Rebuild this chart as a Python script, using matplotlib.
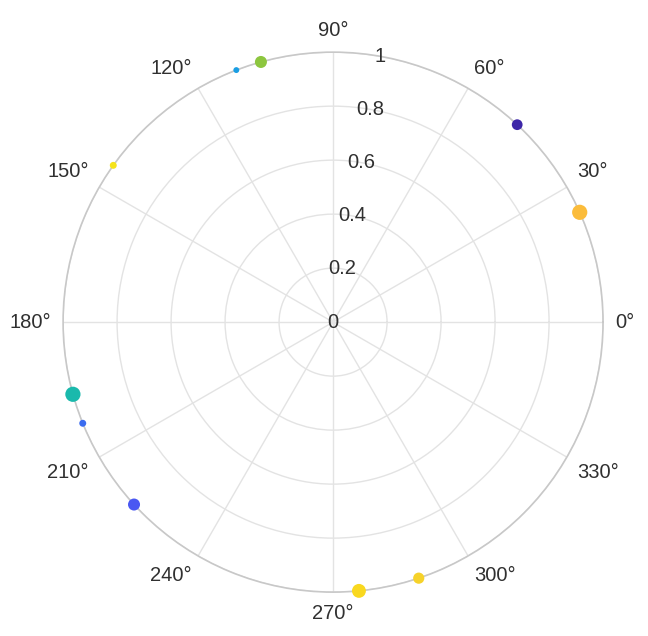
import numpy as np
import matplotlib
matplotlib.use('Agg')
import matplotlib.pyplot as plt

# angles in degrees, all points sit on r = 1
theta_deg = [24, 47, 105.5, 111, 144.5, 195.5, 202, 222.5, 275.5, 288.5]
radius = [1, 1, 1, 1, 1, 1, 1, 1, 1, 1]
marker_size = [120, 60, 75, 18, 25, 120, 25, 75, 100, 65]
point_colors = ["#fbbc3b", "#3d26a8", "#8dc63f", "#1a9ee3", "#f5e31a",
                "#1ab9ac", "#3a6cf0", "#4a58f2", "#f9d81f", "#f6d22a"]
r_ticks = [0, 0.2, 0.4, 0.6, 0.8, 1]
r_tick_labels = ["0", "0.2", "0.4", "0.6", "0.8", "1"]
theta_ticks = list(range(0, 360, 30))
r_label_angle = 80

plt.rcParams["font.family"] = ["Liberation Sans", "DejaVu Sans"]

fig = plt.figure(figsize=(6.48, 6.36), dpi=100)
ax = fig.add_axes([0.097, 0.069, 0.834, 0.849], projection="polar")
ax.set_facecolor("white")

ax.scatter(np.deg2rad(theta_deg), radius, s=marker_size, c=point_colors,
           zorder=3, clip_on=False, linewidths=0)

ax.set_ylim(0, 1)
ax.set_yticks(r_ticks)
ax.set_yticklabels([])
# radial labels centred on the rings along the 80 degree axis
for r, lab in zip(r_ticks, r_tick_labels):
    ax.text(np.deg2rad(r_label_angle), r, lab, ha="center", va="center",
            fontsize=14.5, color="#303030", zorder=4)

ax.set_thetagrids(theta_ticks)
ax.set_xticklabels([])
# angle labels anchored by their near edge, just outside the rim
for t in theta_ticks:
    c, s = np.cos(np.deg2rad(t)), np.sin(np.deg2rad(t))
    ha = "left" if c > 0.1 else ("right" if c < -0.1 else "center")
    va = "bottom" if s > 0.1 else ("top" if s < -0.1 else "center")
    ax.text(np.deg2rad(t), 1.045, f"{t}°", ha=ha, va=va, fontsize=14.5,
            color="#303030", clip_on=False)

ax.grid(color="#e3e3e3", linewidth=1)
ax.spines["polar"].set_color("#c8c8c8")
ax.spines["polar"].set_linewidth(1.2)

fig.savefig("out.png", dpi=100)
